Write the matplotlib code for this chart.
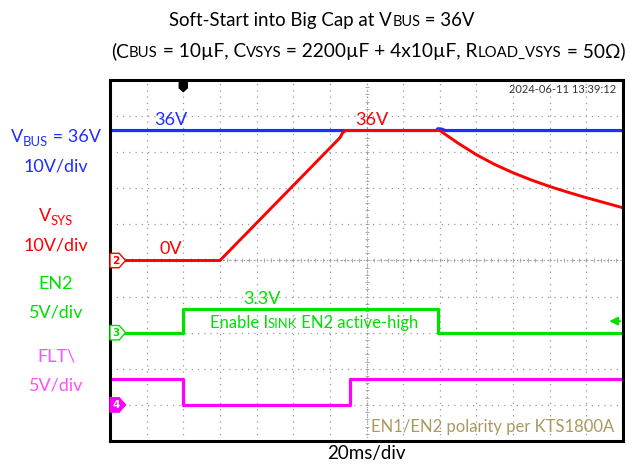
import matplotlib
matplotlib.use("Agg")
import matplotlib.pyplot as plt
from matplotlib.patches import Polygon

plt.rcParams['font.family'] = ['Lato', 'DejaVu Sans']

# --- scope data (time in ms, volts) ---
vbus_t = [-40, 138, 139, 141, 143, 240]
vbus_v = [36.0, 36.0, 36.5, 36.4, 36.0, 36.0]

vsys_t = [-40, 20, 85.5, 87, 88.5, 140, 150, 160, 170, 180, 190, 200, 210, 220, 230, 240]
vsys_v = [0.0, 0.0, 34.0, 35.4, 36.0, 36.0, 32.5, 29.3, 26.6, 24.3, 22.3, 20.5, 18.9, 17.4, 16.0, 14.6]

en2_t = [-40, 0, 0, 139, 139, 240]
en2_v = [0.0, 0.0, 3.3, 3.3, 0.0, 0.0]

flt_t = [-40, 0, 0, 91, 91, 240]
flt_v = [3.6, 3.6, 0.0, 0.0, 3.6, 3.6]

# channel ground position (div) and scale (V/div)
vbus_gnd, vbus_scale = 5, 10
vsys_gnd, vsys_scale = 5, 10
en2_gnd, en2_scale = 3, 5
flt_gnd, flt_scale = 1, 5

blue = '#1f2dff'
red = '#ff0000'
green = '#00e000'
magenta = '#ff00ff'
olive = '#a89a5e'


def to_div(vals, gnd, scale):
    return [gnd + v / scale for v in vals]


fig = plt.figure(figsize=(6.39, 4.65), dpi=100)
ax = fig.add_axes([110 / 639, 24 / 465, 513 / 639, 361 / 465])
ax.set_xlim(-40, 240)
ax.set_ylim(0, 10)
ax.set_xticks(range(-40, 241, 20))
ax.set_yticks(range(0, 11))
ax.tick_params(length=0, labelbottom=False, labelleft=False)
ax.grid(True, color='#999999', linestyle=(0, (1, 4)), linewidth=0.9)
for s in ax.spines.values():
    s.set_linewidth(2.2)

# center crosshair with small ticks
ax.axhline(5, color='#999999', linestyle=(0, (1, 2)), linewidth=0.8)
ax.axvline(100, color='#999999', linestyle=(0, (1, 2)), linewidth=0.8)
ax.plot([t * 4 for t in range(-10, 61)], [5] * 71, linestyle='none', marker='|',
        markersize=3, color='#a0a0a0', markeredgewidth=0.6)
ax.plot([100] * 51, [k * 0.2 for k in range(51)], linestyle='none', marker='_',
        markersize=3, color='#a0a0a0', markeredgewidth=0.6)

# traces
ax.plot(vbus_t, to_div(vbus_v, vbus_gnd, vbus_scale), color=blue, lw=2.3)
ax.plot(vsys_t, to_div(vsys_v, vsys_gnd, vsys_scale), color=red, lw=2.1)
ax.plot(en2_t, to_div(en2_v, en2_gnd, en2_scale), color=green, lw=2.3)
ax.plot(flt_t, to_div(flt_v, flt_gnd, flt_scale), color=magenta, lw=2.3)


# channel ground tags on the left edge
def tag(gnd, label, color, filled):
    h = 0.2
    pts = [(-40, gnd - h), (-35, gnd - h), (-31.5, gnd), (-35, gnd + h), (-40, gnd + h)]
    ax.add_patch(Polygon(pts, closed=True, facecolor=color if filled else 'white',
                         edgecolor=color, lw=1.0, zorder=5, clip_on=False))
    ax.text(-36.6, gnd, label, color='white' if filled else color, fontsize=7.5,
            fontweight='bold', ha='center', va='center', zorder=6, family='DejaVu Sans')


tag(vsys_gnd, '2', red, False)
tag(en2_gnd, '3', green, False)
tag(flt_gnd, '4', magenta, True)

# trigger position marker at top
ax.add_patch(Polygon([(-2.2, 9.93), (2.2, 9.93), (2.2, 9.78), (0, 9.68), (-2.2, 9.78)],
                     closed=True, facecolor='black', edgecolor='black', zorder=6))
# trigger level arrow on right
ax.annotate('', xy=(231, 3.32), xytext=(240, 3.32),
            arrowprops=dict(arrowstyle='-|>', color=green, lw=1.4, mutation_scale=12))

# in-plot labels
ax.text(-6.7, 8.75, '36V', color=blue, fontsize=13, ha='center', va='baseline')
ax.text(-6.7, 5.18, '0V', color=red, fontsize=13, ha='center', va='baseline')
ax.text(103, 8.75, '36V', color=red, fontsize=13, ha='center', va='baseline')
ax.text(43, 3.8, '3.3V', color=green, fontsize=13, ha='center', va='baseline')
ax.text(240 - 4, 9.75, '2024-06-11 13:39:12', color='#333333', fontsize=8,
        ha='right', va='center')
ax.text(169, 0.25, 'EN1/EN2 polarity per KTS1800A', color=olive, fontsize=12,
        ha='center', va='baseline')

fig.canvas.draw()
renderer = fig.canvas.get_renderer()


def rich_text(xpix, ypix, parts, color, size):
    # parts: list of (text, scale, dy_pts); placed on a common baseline
    texts = []
    for s, k, dy in parts:
        t = fig.text(0, 1 - ypix / 465 - dy / (4.65 * 72), s, fontsize=size * k,
                     color=color, va='baseline', ha='left')
        texts.append(t)
    widths = [t.get_window_extent(renderer).width for t in texts]
    x = xpix - sum(widths) / 2
    for t, w in zip(texts, widths):
        t.set_x(x / 639)
        x += w


sc = 0.78
rich_text(322, 26, [('Soft-Start into Big Cap at V', 1, 0), ('BUS', sc, 0), (' = 36V', 1, 0)],
          'black', 13.4)
rich_text(368, 57, [('(C', 1, 0), ('BUS', sc, 0), (' = 10µF, C', 1, 0), ('VSYS', sc, 0),
                    (' = 2200µF + 4x10µF, R', 1, 0), ('LOAD_VSYS', sc, 0), (' = 50Ω)', 1, 0)],
          'black', 13.8)

# left channel labels
rich_text(56, 142, [('V', 1, 0), ('BUS', 0.72, 3), (' = 36V', 1, 0)], blue, 13)
fig.text(56 / 639, 1 - 172 / 465, '10V/div', color=blue, fontsize=13, ha='center', va='baseline')
rich_text(56, 221, [('V', 1, 0), ('SYS', 0.72, 3)], red, 13)
fig.text(56 / 639, 1 - 250 / 465, '10V/div', color=red, fontsize=13, ha='center', va='baseline')
fig.text(56 / 639, 1 - 289 / 465, 'EN2', color=green, fontsize=13, ha='center', va='baseline')
fig.text(56 / 639, 1 - 318 / 465, '5V/div', color=green, fontsize=13, ha='center', va='baseline')
fig.text(56 / 639, 1 - 362 / 465, 'FLT\\', color='#ff50ff', fontsize=13, ha='center', va='baseline')
fig.text(56 / 639, 1 - 390 / 465, '5V/div', color='#ff50ff', fontsize=13, ha='center', va='baseline')

# EN2 note inside the plot
rich_text(314, 328, [('Enable I', 1, 0), ('SINK', sc, 0), (' EN2 active-high', 1, 0)], green, 12)

fig.text(366 / 639, 1 - 459 / 465, '20ms/div', color='black', fontsize=13.5, ha='center',
         va='baseline')

fig.savefig('out.png', dpi=100)
